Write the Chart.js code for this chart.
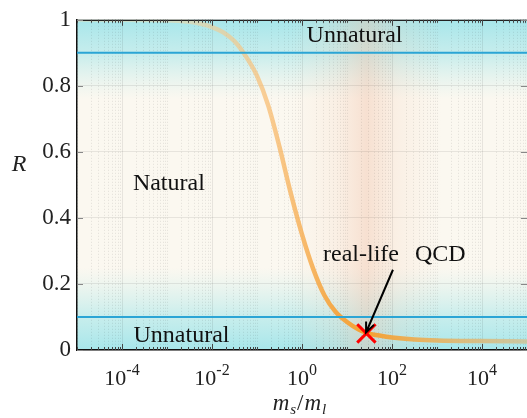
<!DOCTYPE html>
<html>
<head>
<meta charset="utf-8">
<script src="https://cdn.jsdelivr.net/npm/chart.js@4.4.0/dist/chart.umd.min.js"></script>
<style>
  html, body { margin: 0; padding: 0; background: #fff; }
</style>
</head>
<body>
<canvas id="chart" width="527" height="418"></canvas>
<script>
// R versus m_s/m_l
const massRatio = [1e-5, 1e-4, 0.001, 0.00316, 0.00562, 0.01, 0.0178, 0.0316, 0.0562, 0.1, 0.178, 0.316, 0.562, 1, 1.78, 3.16, 5.62, 10, 17.8, 27, 56.2, 100, 316, 1000, 10000, 100000];
const ratioR = [1.0, 1.0, 0.999, 0.994, 0.988, 0.978, 0.962, 0.935, 0.89, 0.83, 0.74, 0.615, 0.475, 0.35, 0.245, 0.165, 0.115, 0.085, 0.063, 0.052, 0.043, 0.038, 0.032, 0.029, 0.027, 0.026];

// naturalness thresholds and the physical point
const naturalLow = 0.1;
const naturalHigh = 0.9;
const qcdRatio = 27;
const qcdR = 0.05;

// axis ticks
const xTickValues = [1e-4, 1e-2, 1, 1e2, 1e4];
const xTickExponents = ['-4', '-2', '0', '2', '4'];
const xMin = 1e-5, xMax = 1e5;

const serif = '"Liberation Serif", "DejaVu Serif", serif';

// minor tick positions of the log axis: 1..9 x 10^n
const minorTicks = [];
for (let e = -5; e < 5; e++) {
  for (let k = 1; k < 10; k++) minorTicks.push(k * Math.pow(10, e));
}
minorTicks.push(xMax);

function isMajor(v) {
  return xTickValues.some(t => Math.abs(Math.log10(v) - Math.log10(t)) < 1e-6);
}

const backdrop = {
  id: 'backdrop',
  beforeDraw(chart) {
    const { ctx, chartArea: a, scales: { x, y } } = chart;
    const w = a.right - a.left, h = a.bottom - a.top;
    ctx.save();
    ctx.fillStyle = '#fbf8f0';
    ctx.fillRect(a.left, a.top, w, h);

    // cyan "unnatural" zones
    const y1 = y.getPixelForValue(1), y2 = y.getPixelForValue(0.76);
    let g = ctx.createLinearGradient(0, y1, 0, y2);
    g.addColorStop(0, 'rgba(162,229,234,0.95)');
    g.addColorStop(0.42, 'rgba(180,233,235,0.75)');
    g.addColorStop(1, 'rgba(205,238,236,0)');
    ctx.fillStyle = g;
    ctx.fillRect(a.left, y1, w, y2 - y1);

    const y3 = y.getPixelForValue(0), y4 = y.getPixelForValue(0.25);
    g = ctx.createLinearGradient(0, y3, 0, y4);
    g.addColorStop(0, 'rgba(162,229,234,0.95)');
    g.addColorStop(0.4, 'rgba(182,234,235,0.75)');
    g.addColorStop(1, 'rgba(205,238,236,0)');
    ctx.fillStyle = g;
    ctx.fillRect(a.left, y4, w, y3 - y4);

    // pink band round the physical point
    const xc = x.getPixelForValue(qcdRatio);
    g = ctx.createLinearGradient(xc - 75, 0, xc + 75, 0);
    g.addColorStop(0, 'rgba(245,205,180,0)');
    g.addColorStop(0.3, 'rgba(245,200,175,0.18)');
    g.addColorStop(0.5, 'rgba(240,188,162,0.4)');
    g.addColorStop(0.7, 'rgba(245,200,175,0.18)');
    g.addColorStop(1, 'rgba(245,205,180,0)');
    ctx.fillStyle = g;
    ctx.fillRect(xc - 75, a.top, 150, h);

    // dotted minor grid
    ctx.strokeStyle = 'rgba(0,0,0,0.10)';
    ctx.lineWidth = 1;
    ctx.setLineDash([1, 2]);
    x.ticks.forEach(t => {
      if (isMajor(t.value)) return;
      const px = Math.round(x.getPixelForValue(t.value)) + 0.5;
      ctx.beginPath();
      ctx.moveTo(px, a.top);
      ctx.lineTo(px, a.bottom);
      ctx.stroke();
    });
    ctx.restore();
  }
};

const decorations = {
  id: 'decorations',
  afterDatasetsDraw(chart) {
    const { ctx, scales: { x, y } } = chart;
    ctx.save();
    ctx.fillStyle = '#111';
    ctx.textBaseline = 'alphabetic';
    ctx.font = '24px ' + serif;
    ctx.textAlign = 'center';
    ctx.fillText('Unnatural', x.getPixelForValue(14.7), y.getPixelForValue(0.932));
    ctx.fillText('Unnatural', x.getPixelForValue(0.0021), y.getPixelForValue(0.024));
    ctx.fillText('Natural', x.getPixelForValue(0.0011), y.getPixelForValue(0.484));
    ctx.textAlign = 'left';
    ctx.fillText('real-life', x.getPixelForValue(2.93), y.getPixelForValue(0.27));
    ctx.fillText('QCD', x.getPixelForValue(324), y.getPixelForValue(0.27));

    // arrow to the physical point
    const ax0 = x.getPixelForValue(105), ay0 = y.getPixelForValue(0.243);
    const ax1 = x.getPixelForValue(26.5), ay1 = y.getPixelForValue(0.053);
    ctx.strokeStyle = '#000';
    ctx.lineWidth = 2;
    ctx.beginPath();
    ctx.moveTo(ax0, ay0);
    ctx.lineTo(ax1, ay1);
    const ang = Math.atan2(ay1 - ay0, ax1 - ax0);
    ctx.moveTo(ax1 - 11 * Math.cos(ang - 0.4), ay1 - 11 * Math.sin(ang - 0.4));
    ctx.lineTo(ax1, ay1);
    ctx.lineTo(ax1 - 11 * Math.cos(ang + 0.4), ay1 - 11 * Math.sin(ang + 0.4));
    ctx.stroke();
    ctx.restore();
  },
  afterDraw(chart) {
    const { ctx, chartArea: a, scales: { x, y } } = chart;
    ctx.save();
    // top frame line
    ctx.strokeStyle = '#222';
    ctx.lineWidth = 1.3;
    ctx.beginPath();
    ctx.moveTo(a.left, a.top + 0.5);
    ctx.lineTo(a.right, a.top + 0.5);
    ctx.stroke();

    // inward tick marks
    ctx.lineWidth = 1;
    ctx.strokeStyle = '#444';
    x.ticks.forEach(t => {
      const px = Math.round(x.getPixelForValue(t.value)) + 0.5;
      const len = isMajor(t.value) ? 6 : 3;
      ctx.beginPath();
      ctx.moveTo(px, a.bottom);
      ctx.lineTo(px, a.bottom - len);
      ctx.moveTo(px, a.top);
      ctx.lineTo(px, a.top + len);
      ctx.stroke();
    });
    ctx.strokeStyle = '#888';
    y.ticks.forEach(t => {
      const py = Math.round(y.getPixelForValue(t.value)) + 0.5;
      ctx.beginPath();
      ctx.moveTo(a.left, py);
      ctx.lineTo(a.left + 6, py);
      ctx.moveTo(a.right, py);
      ctx.lineTo(a.right - 6, py);
      ctx.stroke();
    });

    // x tick labels 10^n
    ctx.fillStyle = '#222';
    ctx.textAlign = 'left';
    ctx.textBaseline = 'alphabetic';
    xTickValues.forEach((v, i) => {
      const xc = x.getPixelForValue(v);
      ctx.font = '22px ' + serif;
      const w1 = ctx.measureText('10').width;
      ctx.font = '16px ' + serif;
      const w2 = ctx.measureText(xTickExponents[i]).width;
      const left = xc - (w1 + w2) / 2;
      ctx.font = '22px ' + serif;
      ctx.fillText('10', left, 385);
      ctx.font = '16px ' + serif;
      ctx.fillText(xTickExponents[i], left + w1, 375);
    });

    // axis titles
    const parts = [
      ['m', 'italic 23px ' + serif, 0],
      ['s', 'italic 15px ' + serif, 4],
      ['/', '23px ' + serif, 0],
      ['m', 'italic 23px ' + serif, 0],
      ['l', 'italic 15px ' + serif, 4]
    ];
    let total = 0;
    parts.forEach(p => { ctx.font = p[1]; total += ctx.measureText(p[0]).width + 1; });
    let cx = x.getPixelForValue(0.9) - total / 2;
    parts.forEach(p => {
      ctx.font = p[1];
      ctx.fillText(p[0], cx, 410 + p[2]);
      cx += ctx.measureText(p[0]).width + 1;
    });
    ctx.font = 'italic 24px ' + serif;
    ctx.textAlign = 'center';
    ctx.fillText('R', 19, 171);
    ctx.restore();
  }
};

const curveColor = (c) => {
  const a = c.chart.chartArea;
  if (!a) return '#f5a545';
  const g = c.chart.ctx.createLinearGradient(a.left, 0, a.right, 0);
  g.addColorStop(0, 'rgba(250,215,160,0.3)');
  g.addColorStop(0.25, 'rgba(250,208,150,0.5)');
  g.addColorStop(0.42, 'rgba(248,188,112,0.72)');
  g.addColorStop(0.56, 'rgba(246,168,70,0.95)');
  g.addColorStop(0.64, 'rgba(245,160,50,1)');
  g.addColorStop(0.78, 'rgba(238,172,80,0.85)');
  g.addColorStop(1, 'rgba(212,190,140,0.75)');
  return g;
};

new Chart(document.getElementById('chart'), {
  type: 'line',
  data: {
    datasets: [
      {
        data: [{ x: qcdRatio, y: qcdR }],
        showLine: false,
        pointStyle: 'crossRot',
        pointRadius: 13,
        pointBorderWidth: 3,
        pointBorderColor: '#ff0000',
        order: 0
      },
      {
        data: [{ x: xMin, y: naturalHigh }, { x: xMax, y: naturalHigh }],
        borderColor: '#2ba5d5',
        borderWidth: 2,
        pointRadius: 0,
        order: 1
      },
      {
        data: [{ x: xMin, y: naturalLow }, { x: xMax, y: naturalLow }],
        borderColor: '#2ba5d5',
        borderWidth: 2,
        pointRadius: 0,
        order: 1
      },
      {
        data: massRatio.map((m, i) => ({ x: m, y: ratioR[i] })),
        borderColor: curveColor,
        borderWidth: 4.5,
        pointRadius: 0,
        cubicInterpolationMode: 'monotone',
        order: 2
      }
    ]
  },
  options: {
    responsive: false,
    animation: false,
    layout: { autoPadding: false, padding: { top: 13, right: 0, left: 0, bottom: 0 } },
    plugins: { legend: { display: false }, tooltip: { enabled: false } },
    scales: {
      x: {
        type: 'logarithmic',
        min: xMin,
        max: xMax,
        afterBuildTicks: (scale) => { scale.ticks = minorTicks.map(v => ({ value: v })); },
        afterFit: (scale) => { scale.height = 68; },
        ticks: { display: false },
        grid: {
          drawTicks: false,
          color: (c) => (c.tick && isMajor(c.tick.value)) ? 'rgba(0,0,0,0.08)' : 'rgba(0,0,0,0)'
        },
        border: { display: true, color: '#111', width: 1.5 }
      },
      y: {
        min: 0,
        max: 1,
        afterFit: (scale) => { scale.width = 77; },
        ticks: {
          stepSize: 0.2,
          padding: 6,
          color: '#222',
          font: { family: serif, size: 23 },
          callback: (v) => String(Number(v.toFixed(1)))
        },
        grid: { drawTicks: false, color: 'rgba(0,0,0,0.08)' },
        border: { display: true, color: '#111', width: 1.5 }
      }
    }
  },
  plugins: [backdrop, decorations]
});
</script>
</body>
</html>
